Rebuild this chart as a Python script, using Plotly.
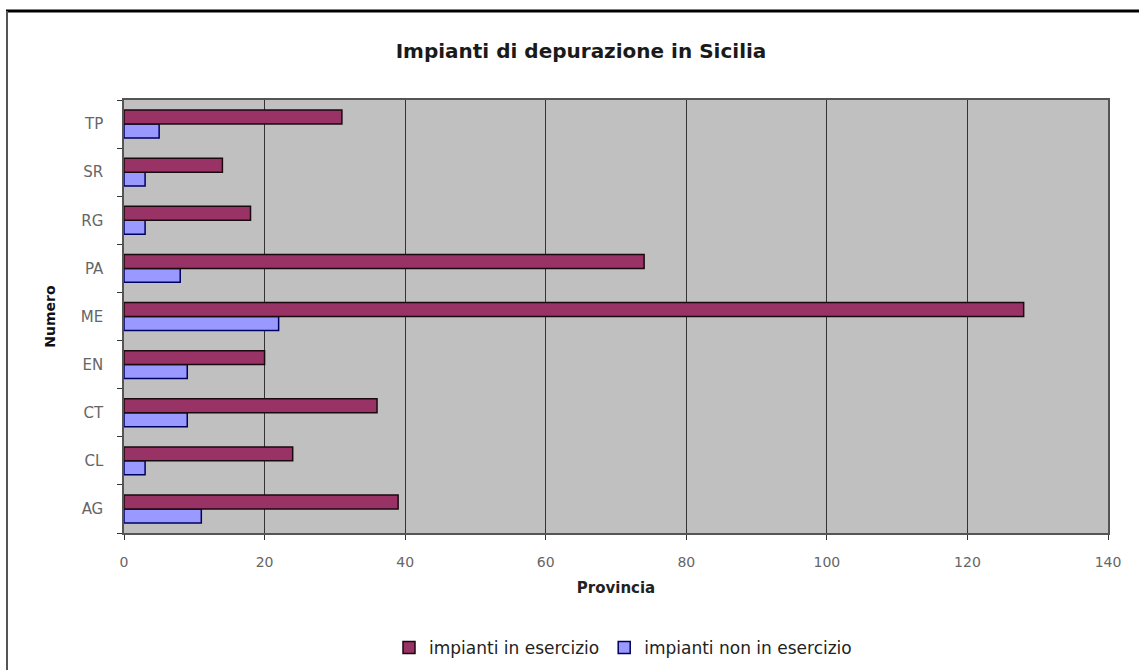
import plotly.graph_objects as go

province = ["AG", "CL", "CT", "EN", "ME", "PA", "RG", "SR", "TP"]
in_esercizio = [39, 24, 36, 20, 128, 74, 18, 14, 31]
non_in_esercizio = [11, 3, 9, 9, 22, 8, 3, 3, 5]
x_ticks = [0, 20, 40, 60, 80, 100, 120, 140]

W, H = 1139, 670
L, R, T, B = 124, 31, 100, 137
pw, ph = W - L - R, H - T - B

fig = go.Figure()
fig.add_trace(go.Bar(
    y=province, x=non_in_esercizio, orientation="h", name="impianti non in esercizio",
    marker=dict(color="#9999FF", line=dict(color="#000060", width=1.5)), legendrank=2,
))
fig.add_trace(go.Bar(
    y=province, x=in_esercizio, orientation="h", name="impianti in esercizio",
    marker=dict(color="#993366", line=dict(color="#1a0a10", width=1.5)), legendrank=1,
))

fig.update_layout(
    width=W, height=H,
    margin=dict(l=L, r=R, t=T, b=B),
    paper_bgcolor="white", plot_bgcolor="#C0C0C0",
    barmode="group", bargap=0.42, bargroupgap=0,
    font=dict(family="DejaVu Sans", color="#333333", size=12),
    title=dict(text="<b>Impianti di depurazione in Sicilia</b>", x=581 / W, xref="container",
               xanchor="center", y=1 - 51 / H, yref="container", yanchor="middle",
               font=dict(size=20, color="#1a1a1a", family="DejaVu Sans")),
    legend=dict(orientation="h", x=623 / W, xref="container", xanchor="center",
                y=1 - 648 / H, yref="container", yanchor="middle",
                font=dict(size=17, color="#222222", family="DejaVu Sans"),
                itemwidth=30, tracegroupgap=0),
    xaxis=dict(range=[0, 140], tickvals=x_ticks, showgrid=True, gridcolor="#333333", gridwidth=1,
               showline=True, linecolor="#555555", linewidth=1.5, mirror=True,
               ticks="outside", ticklen=5, tickcolor="#333333", ticklabelstandoff=10,
               tickfont=dict(size=14, color="#666666"), zeroline=False,
               title=dict(text="<b>Provincia</b>", standoff=14, font=dict(size=15, color="#222222"))),
    yaxis=dict(showline=True, linecolor="#555555", linewidth=1.5, mirror=True,
               ticks="outside", ticklen=5, tickcolor="#333333", tickson="boundaries",
               ticklabelstandoff=16, tickfont=dict(size=15, color="#666666"),
               title=dict(text="<b>Numero</b>", standoff=22, font=dict(size=14, color="#111111"))),
    shapes=[
        dict(type="line", xref="paper", yref="paper",
             x0=(6 - L) / pw, x1=(1145 - L) / pw, y0=1 + (T - 11) / ph, y1=1 + (T - 11) / ph,
             line=dict(color="black", width=3)),
        dict(type="line", xref="paper", yref="paper",
             x0=(7 - L) / pw, x1=(7 - L) / pw, y0=1 + (T - 11) / ph, y1=1 - (680 - T) / ph,
             line=dict(color="#555555", width=2)),
    ],
)

fig.write_html("out.html", config={"displayModeBar": False},
               post_script="document.body.style.margin='0px';")
